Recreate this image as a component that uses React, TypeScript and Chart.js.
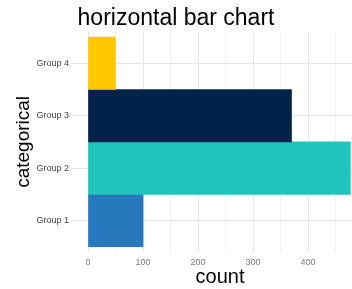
import React, { useEffect, useRef } from "react";
import { Chart, registerables } from "chart.js";

Chart.register(...registerables);

const categories = ["Group 1", "Group 2", "Group 3", "Group 4"];
const counts = [100, 477, 370, 50];
const barColors = ["#2878BE", "#20C4BC", "#00234B", "#FFC800"];
const xTickValues = [0, 50, 100, 150, 200, 250, 300, 350, 400, 450];
const xLabelValues = [0, 100, 200, 300, 400];

const FONT = "'Liberation Sans', Arial, Helvetica, sans-serif";

export default function App() {
  const ref = useRef<HTMLCanvasElement | null>(null);

  useEffect(() => {
    if (!ref.current) return;
    const chart = new Chart(ref.current, {
      type: "bar",
      data: {
        datasets: [
          {
            data: categories.map((c, i) => ({ x: counts[i], y: i + 1 })),
            backgroundColor: barColors,
            borderWidth: 0,
            barPercentage: 1,
            categoryPercentage: 1,
          },
        ],
      },
      options: {
        indexAxis: "y",
        animation: false,
        responsive: false,
        layout: { padding: 0 },
        plugins: {
          legend: { display: false },
          tooltip: { enabled: false },
          title: {
            display: true,
            text: "horizontal bar chart",
            color: "#000000",
            font: { family: FONT, size: 23, weight: "normal", lineHeight: 1.1 },
            padding: { top: 6, bottom: 0.5 },
          },
        },
        scales: {
          x: {
            type: "linear",
            min: 0,
            max: 480,
            offset: false,
            afterBuildTicks: (scale: any) => {
              scale.ticks = xTickValues.map((v) => ({ value: v }));
            },
            afterFit: (scale: any) => {
              scale.height = 37;
            },
            border: { display: false },
            grid: {
              offset: false,
              color: (ctx: any) =>
                ctx.tick && xLabelValues.includes(ctx.tick.value) ? "#e6e6e6" : "#f0f0f0",
              drawTicks: false,
              lineWidth: 1,
            },
            ticks: {
              autoSkip: false,
              maxRotation: 0,
              padding: 5,
              color: "#7a7a7a",
              font: { family: FONT, size: 9 },
              callback: (v: any) => (xLabelValues.includes(Number(v)) ? String(v) : ""),
            },
            title: {
              display: true,
              text: "count",
              color: "#000000",
              font: { family: FONT, size: 20 },
              padding: { top: 0, bottom: 0 },
            },
          },
          y: {
            type: "linear",
            min: 0.4,
            max: 4.6,
            offset: false,
            afterBuildTicks: (scale: any) => {
              scale.ticks = categories.map((_, i) => ({ value: i + 1 }));
            },
            afterFit: (scale: any) => {
              scale.width = 88;
            },
            border: { display: false },
            grid: {
              offset: false,
              color: "#e6e6e6",
              tickColor: "#e6e6e6",
              tickLength: 17,
              lineWidth: 1,
            },
            ticks: {
              autoSkip: false,
              padding: 2,
              color: "#444444",
              font: { family: FONT, size: 9 },
              callback: (v: any) => categories[Number(v) - 1] ?? "",
            },
            title: {
              display: true,
              text: "categorical",
              color: "#000000",
              font: { family: FONT, size: 19 },
              padding: { top: 12, bottom: 0 },
            },
          },
        },
      },
    } as any);
    return () => chart.destroy();
  }, []);

  return (
    <div style={{ position: "absolute", left: 0, top: 0, width: 352, height: 289, background: "#ffffff" }}>
      <canvas ref={ref} width={352} height={289} style={{ display: "block" }} />
    </div>
  );
}
